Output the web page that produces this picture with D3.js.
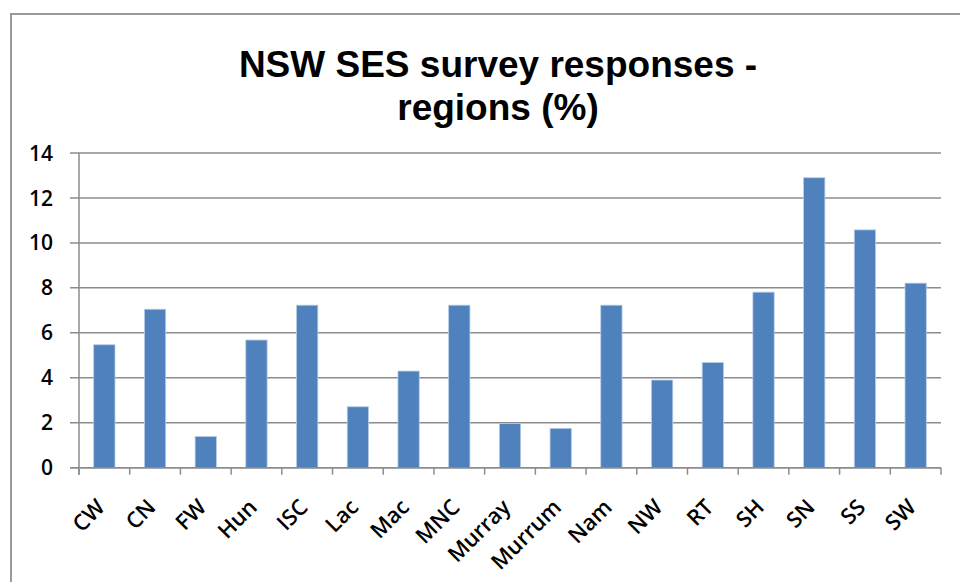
<!DOCTYPE html>
<html>
<head>
<meta charset="utf-8">
<script src="https://cdn.jsdelivr.net/npm/d3@7"></script>
<style>
    body { margin: 0; background: #fff; }
    svg { display: block; }
</style>
</head>
<body>
<div id="chart"></div>
<script>
var regions = ['CW', 'CN', 'FW', 'Hun', 'ISC', 'Lac', 'Mac', 'MNC', 'Murray', 'Murrum',
    'Nam', 'NW', 'RT', 'SH', 'SN', 'SS', 'SW'];
var responses = [5.47, 7.05, 1.39, 5.68, 7.23, 2.71, 4.3, 7.23, 1.97, 1.75,
    7.23, 3.9, 4.68, 7.81, 12.9, 10.58, 8.21];
var yTicks = [0, 2, 4, 6, 8, 10, 12, 14];
var titleLines = ['NSW SES survey responses -', 'regions (%)'];

var width = 960;
var height = 582;
var plot_left = 79;
var plot_right = 941;
var plot_top = 153;
var plot_bottom = 467.7;

var svg = d3.select('#chart')
    .append('svg')
    .attr('width', width)
    .attr('height', height);

// chart frame (only top and left edges are visible)
svg.append('path')
    .attr('d', 'M11,' + height + 'V14H' + width)
    .attr('fill', 'none')
    .attr('stroke', '#9a9a9a')
    .attr('stroke-width', 2);

var x = d3.scaleBand()
    .domain(regions)
    .range([plot_left, plot_right])
    .paddingInner(0.58)
    .paddingOuter(0.29);

var y = d3.scaleLinear()
    .domain([0, 14])
    .range([plot_bottom, plot_top]);

// title
svg.append('text')
    .attr('x', 498)
    .attr('y', 77)
    .attr('text-anchor', 'middle')
    .attr('font-family', 'Liberation Sans, Arial, sans-serif')
    .attr('font-weight', 'bold')
    .attr('font-size', 37)
    .attr('fill', '#000')
    .selectAll('tspan')
    .data(titleLines)
    .enter()
    .append('tspan')
    .attr('x', 498)
    .attr('dy', function (d, i) { return i === 0 ? 0 : 43; })
    .text(function (d) { return d; });

// gridlines
svg.append('g')
    .selectAll('line')
    .data(yTicks)
    .enter()
    .append('line')
    .attr('x1', plot_left - 9)
    .attr('x2', plot_right)
    .attr('y1', function (d) { return y(d); })
    .attr('y2', function (d) { return y(d); })
    .attr('stroke', '#8c8c8c')
    .attr('stroke-width', 1.5);

// y labels
svg.append('g')
    .selectAll('text')
    .data(yTicks)
    .enter()
    .append('text')
    .attr('x', 53)
    .attr('y', function (d) { return y(d); })
    .attr('dy', '0.36em')
    .attr('text-anchor', 'end')
    .attr('font-family', 'Open Sans, sans-serif')
    .attr('font-weight', 600)
    .attr('font-size', 21)
    .attr('fill', '#000')
    .text(function (d) { return d; });

// y axis line
svg.append('line')
    .attr('x1', plot_left)
    .attr('x2', plot_left)
    .attr('y1', plot_top)
    .attr('y2', plot_bottom + 7)
    .attr('stroke', '#8c8c8c')
    .attr('stroke-width', 1.5);

// x tick marks at category boundaries
var boundaries = regions.map(function (d) { return x(d) - x.step() * x.paddingInner() / 2; });
boundaries.push(plot_right);
svg.append('g')
    .selectAll('line')
    .data(boundaries)
    .enter()
    .append('line')
    .attr('x1', function (d) { return d; })
    .attr('x2', function (d) { return d; })
    .attr('y1', plot_bottom)
    .attr('y2', plot_bottom + 7)
    .attr('stroke', '#8c8c8c')
    .attr('stroke-width', 1.5);

// bars
svg.append('g')
    .selectAll('rect')
    .data(responses)
    .enter()
    .append('rect')
    .attr('x', function (d, i) { return x(regions[i]); })
    .attr('y', function (d) { return y(d); })
    .attr('width', x.bandwidth())
    .attr('height', function (d) { return plot_bottom - y(d); })
    .attr('fill', '#4f81bd')
    .attr('stroke', '#b9cde5')
    .attr('stroke-width', 0.8);

// x labels
svg.append('g')
    .selectAll('text')
    .data(regions)
    .enter()
    .append('text')
    .attr('transform', function (d) {
        return 'translate(' + (x(d) + x.bandwidth() / 2 - 9) + ',' + (plot_bottom + 30) + ') rotate(-45)';
    })
    .attr('dy', '0.7em')
    .attr('text-anchor', 'end')
    .attr('font-family', 'Open Sans, sans-serif')
    .attr('font-weight', 600)
    .attr('font-size', 22)
    .attr('fill', '#000')
    .text(function (d) { return d; });

// bottom axis line
svg.append('line')
    .attr('x1', plot_left - 9)
    .attr('x2', plot_right)
    .attr('y1', plot_bottom)
    .attr('y2', plot_bottom)
    .attr('stroke', '#8c8c8c')
    .attr('stroke-width', 1.5);
</script>
</body>
</html>
